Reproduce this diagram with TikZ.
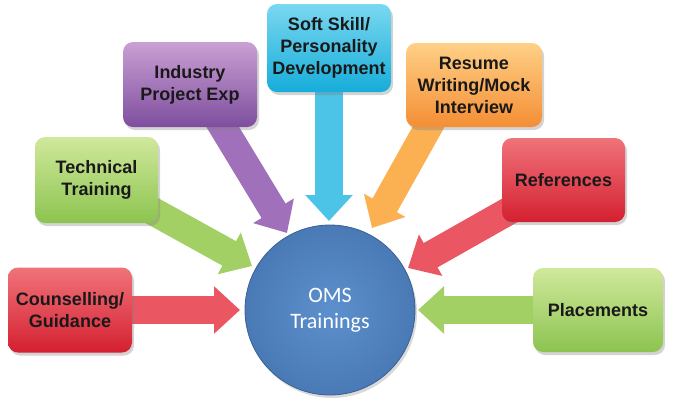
\documentclass[tikz,border=0pt]{standalone}
\usepackage{fontspec}
\setmainfont{Liberation Sans}
\newfontfamily\calib{Carlito}
\usetikzlibrary{arrows.meta,shadows,calc}
\pgfdeclarelayer{bg}
\pgfsetlayers{bg,main}

\definecolor{redT}{RGB}{240,115,122}
\definecolor{redB}{RGB}{212,32,48}
\definecolor{redA}{RGB}{234,86,98}
\definecolor{grnT}{RGB}{208,232,155}
\definecolor{grnB}{RGB}{140,196,80}
\definecolor{grnA}{RGB}{162,208,100}
\definecolor{purT}{RGB}{202,160,212}
\definecolor{purB}{RGB}{126,78,158}
\definecolor{purA}{RGB}{160,112,186}
\definecolor{cyaT}{RGB}{122,216,240}
\definecolor{cyaB}{RGB}{22,172,218}
\definecolor{cyaA}{RGB}{76,196,232}
\definecolor{oraT}{RGB}{255,208,135}
\definecolor{oraB}{RGB}{244,142,52}
\definecolor{oraA}{RGB}{251,176,82}
\definecolor{bluI}{RGB}{92,144,204}
\definecolor{bluO}{RGB}{74,122,182}
\definecolor{bluD}{RGB}{56,96,148}

\tikzset{
  box/.style={rounded corners=10pt, inner sep=0pt, align=center,
    font=\bfseries\fontsize{18}{22}\selectfont, text=black!90,
    drop shadow={opacity=0.35, shadow xshift=2pt, shadow yshift=-3pt}},
  fat/.style={line width=28pt, -{Triangle[length=26pt,width=46pt]}},
  hub/.style={circle, minimum size=170pt, inner sep=0pt, draw=bluD, line width=0.8pt,
    inner color=bluI, outer color=bluO, text=white, align=center,
    font=\calib\fontsize{22}{28}\selectfont,
    drop shadow={opacity=0.3, shadow xshift=2pt, shadow yshift=-3pt}}
}

\begin{document}
\begin{tikzpicture}[x=1pt,y=-1pt]
\useasboundingbox (0,0) rectangle (675,405);

\node[hub] (circ) at (330,310) {OMS\\[-2pt]Trainings};

\node[box, minimum width=124pt, minimum height=85pt, top color=redT, bottom color=redB] (cou) at (70,310) {Counselling/\\Guidance};
\node[box, minimum width=123pt, minimum height=86pt, top color=grnT, bottom color=grnB] (tec) at (96.5,180) {Technical\\Training};
\node[box, minimum width=134pt, minimum height=85pt, top color=purT, bottom color=purB] (ind) at (190,84.5) {Industry\\Project Exp};
\node[box, minimum width=124pt, minimum height=88pt, top color=cyaT, bottom color=cyaB] (sof) at (329,48) {Soft Skill/\\Personality\\Development};
\node[box, minimum width=136pt, minimum height=84pt, top color=oraT, bottom color=oraB] (res) at (474,85) {Resume\\Writing/Mock\\Interview};
\node[box, minimum width=123pt, minimum height=84pt, top color=redT, bottom color=redB] (ref) at (563.5,180) {References};
\node[box, minimum width=130pt, minimum height=84pt, top color=grnT, bottom color=grnB] (pla) at (598,310) {Placements};

\coordinate (t1) at (240,310);
\coordinate (t2) at (252,266);
\coordinate (t3) at (287,233);
\coordinate (t4) at (329,221);
\coordinate (t5) at (372,228);
\coordinate (t6) at (408,268);
\coordinate (t7) at (418,310);

\begin{pgfonlayer}{bg}
\draw[fat, redA] (cou.center) -- (t1);
\draw[fat, grnA] (tec.center) -- (t2);
\draw[fat, purA] ($(ind.center)+(7,0)$) -- (t3);
\draw[fat, cyaA] (sof.center) -- (t4);
\draw[fat, oraA] ($(res.center)+(-22,0)$) -- (t5);
\draw[fat, redA] (ref.center) -- (t6);
\draw[fat, grnA] (pla.center) -- (t7);
\end{pgfonlayer}
\end{tikzpicture}
\end{document}
